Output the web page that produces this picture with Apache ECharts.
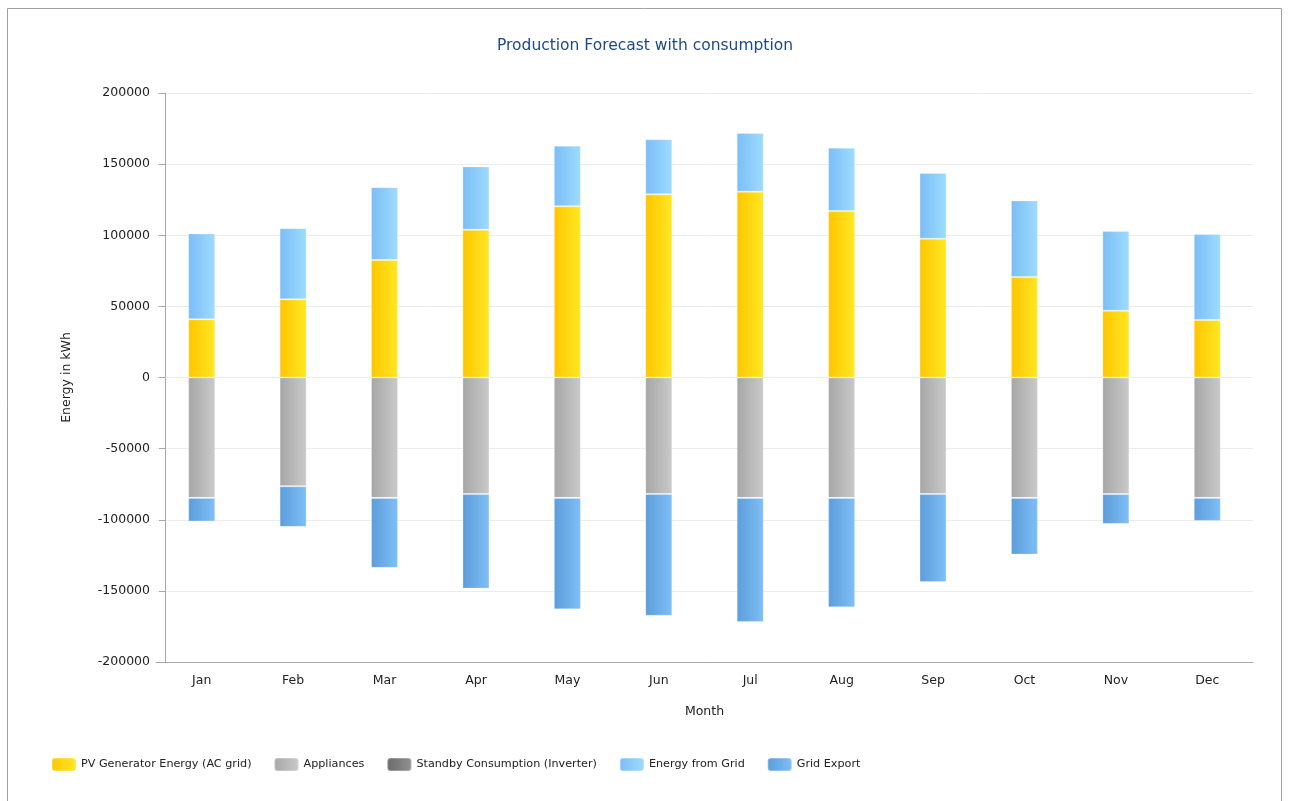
<!DOCTYPE html>
<html>
<head>
<meta charset="utf-8">
<title>Production Forecast with consumption</title>
<script src="https://cdn.jsdelivr.net/npm/echarts@6/dist/echarts.min.js"></script>
<style>
  html, body { margin: 0; padding: 0; background: #fff; }
  #chart { width: 1290px; height: 801px; }
</style>
</head>
<body>
<div id="chart"></div>
<script>
// values (kWh)
var months = ['Jan', 'Feb', 'Mar', 'Apr', 'May', 'Jun', 'Jul', 'Aug', 'Sep', 'Oct', 'Nov', 'Dec'];
var pvEnergy = [40900, 55000, 82600, 103800, 120400, 128800, 130600, 117000, 97500, 70700, 47000, 40400];
var energyFromGrid = [60300, 50000, 51200, 44600, 42500, 38700, 41200, 44500, 46300, 53800, 55900, 60400];
var appliances = [-84600, -76400, -84600, -81900, -84600, -81900, -84600, -84600, -81900, -84600, -81900, -84600];
var standby = [-60, -55, -60, -58, -60, -58, -60, -60, -58, -60, -58, -60];
var gridExport = [-16540, -28545, -49140, -66442, -78240, -85542, -87140, -76840, -61842, -39840, -20942, -16140];
var yTicks = { min: -200000, max: 200000, interval: 50000 };

var FONT = 'DejaVu Sans';

function grad(left, right) {
	return new echarts.graphic.LinearGradient(0, 0, 1, 0, [
		{ offset: 0, color: left },
		{ offset: 1, color: right }
	]);
}

function barSeries(name, data, left, right) {
	return {
		name: name,
		type: 'bar',
		stack: 'total',
		barWidth: 27,
		data: data,
		itemStyle: {
			color: grad(left, right),
			borderColor: 'rgba(255,255,255,0.25)',
			borderWidth: 1
		},
		emphasis: { disabled: true }
	};
}

var chart = echarts.init(document.getElementById('chart'));

chart.setOption({
	animation: false,
	backgroundColor: '#fff',
	textStyle: { fontFamily: FONT },
	title: {
		text: 'Production Forecast with consumption',
		left: 'center',
		top: 33,
		textStyle: { color: '#1d4a87', fontSize: 15.5, fontWeight: 'normal', fontFamily: FONT }
	},
	graphic: [{
		type: 'rect',
		shape: { x: 7.5, y: 8.5, width: 1274, height: 820 },
		style: { fill: 'none', stroke: '#a0a0a0', lineWidth: 1 },
		silent: true
	}],
	legend: {
		left: 46,
		top: 752,
		itemWidth: 24,
		itemHeight: 13,
		itemGap: 22,
		textStyle: { fontSize: 11.2, color: '#222', fontFamily: FONT },
		data: ['PV Generator Energy (AC grid)', 'Appliances', 'Standby Consumption (Inverter)', 'Energy from Grid', 'Grid Export']
	},
	grid: { left: 156, right: 37, top: 93, bottom: 139, containLabel: false },
	xAxis: {
		type: 'category',
		data: months,
		name: 'Month',
		nameLocation: 'middle',
		nameGap: 43,
		nameTextStyle: { fontSize: 12.5, color: '#222' },
		axisLine: { onZero: false, lineStyle: { color: '#a8a8a8' } },
		axisTick: { alignWithLabel: true, length: 6, lineStyle: { color: '#a8a8a8' } },
		axisLabel: { fontSize: 12.5, color: '#222', margin: 12 },
		splitLine: { show: false }
	},
	yAxis: {
		type: 'value',
		min: yTicks.min,
		max: yTicks.max,
		interval: yTicks.interval,
		offset: -9,
		name: 'Energy in kWh',
		nameLocation: 'middle',
		nameGap: 92,
		nameRotate: 90,
		nameTextStyle: { fontSize: 12.5, color: '#222' },
		axisLine: { show: true, lineStyle: { color: '#a8a8a8' } },
		axisTick: { show: true, length: 6, lineStyle: { color: '#a8a8a8' } },
		axisLabel: { fontSize: 12.5, color: '#222', margin: 15, formatter: function (v) { return String(v); } },
		splitLine: { lineStyle: { color: '#ececec' } }
	},
	series: [
		barSeries('PV Generator Energy (AC grid)', pvEnergy, '#ffc500', '#ffe824'),
		barSeries('Appliances', appliances, '#a6a6a6', '#cacaca'),
		barSeries('Standby Consumption (Inverter)', standby, '#6a6a6a', '#929292'),
		barSeries('Energy from Grid', energyFromGrid, '#7bbdf7', '#9edcff'),
		barSeries('Grid Export', gridExport, '#5b9ddb', '#80bff6')
	]
});
</script>
</body>
</html>
